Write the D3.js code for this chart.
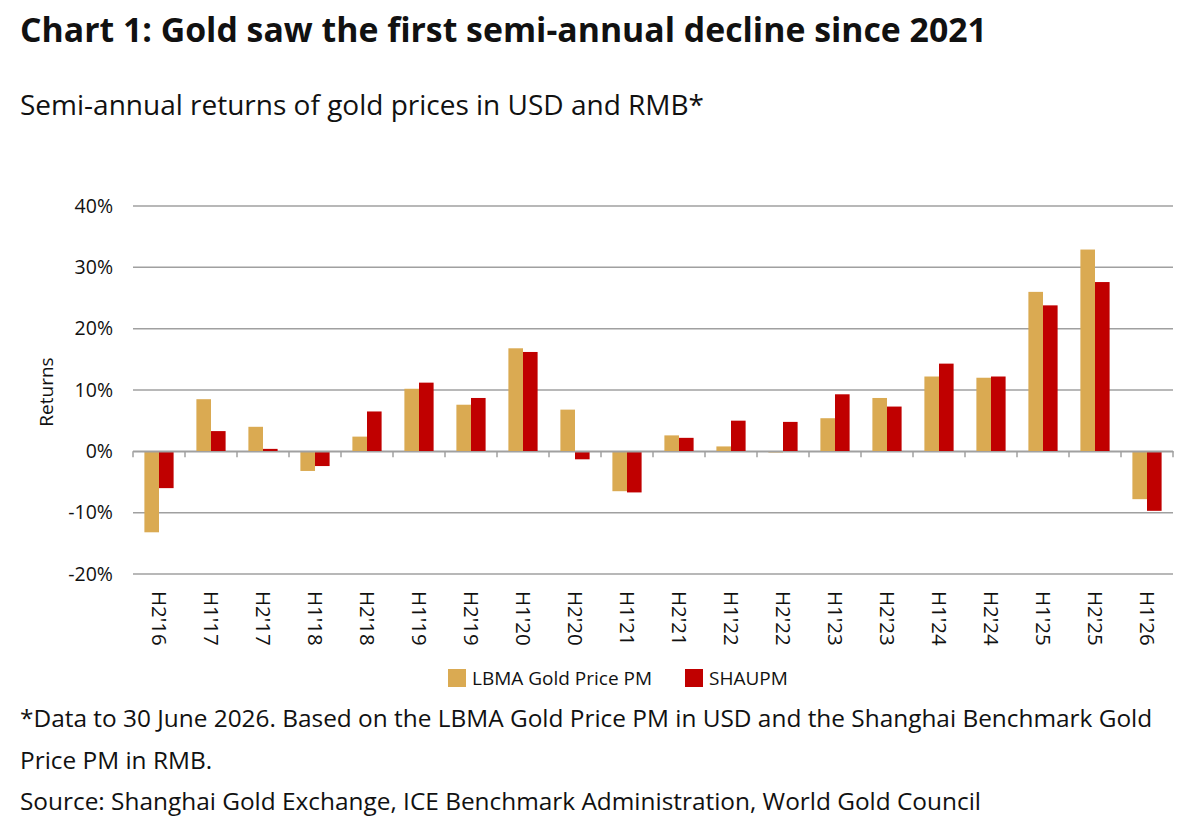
<!DOCTYPE html>
<html>
<head>
<meta charset="utf-8">
<script src="https://cdn.jsdelivr.net/npm/d3@7"></script>
<style>
  html, body { margin: 0; padding: 0; background: #fff; }
  svg { display: block; font-family: "Open Sans", "Noto Sans", sans-serif; }
</style>
</head>
<body>
<div id="chart"></div>
<script>
const periods = ["H2'16", "H1'17", "H2'17", "H1'18", "H2'18", "H1'19", "H2'19", "H1'20", "H2'20", "H1'21",
    "H2'21", "H1'22", "H2'22", "H1'23", "H2'23", "H1'24", "H2'24", "H1'25", "H2'25", "H1'26"];
const lbma = [-13.2, 8.5, 4.0, -3.2, 2.4, 10.2, 7.6, 16.8, 6.8, -6.5, 2.6, 0.8, -0.2, 5.4, 8.7, 12.2, 12.0, 26.0, 32.9, -7.8];
const shaupm = [-6.0, 3.3, 0.4, -2.4, 6.5, 11.2, 8.7, 16.2, -1.3, -6.7, 2.2, 5.0, 4.8, 9.3, 7.3, 14.3, 12.2, 23.8, 27.6, -9.7];
const seriesNames = ["LBMA Gold Price PM", "SHAUPM"];
const seriesColors = ["#DAAA52", "#C00000"];
const yTicks = [-20, -10, 0, 10, 20, 30, 40];
</script>
<script>
const width = 1200;
const height = 823;
const margin = {top: 206, right: 27, bottom: 249, left: 133};

const svg = d3.select("#chart")
    .append("svg")
    .attr("width", width)
    .attr("height", height);

// Title and subtitle.
svg.append("text")
    .attr("x", 20).attr("y", 42)
    .attr("font-size", "33.8px")
    .attr("font-weight", 700)
    .attr("fill", "#111")
    .text("Chart 1: Gold saw the first semi-annual decline since 2021");

svg.append("text")
    .attr("x", 20).attr("y", 115)
    .attr("font-size", "28px")
    .attr("fill", "#111")
    .text("Semi-annual returns of gold prices in USD and RMB*");

// Scales.
const x = d3.scaleBand().domain(periods).range([margin.left, width - margin.right]);
const x1 = d3.scaleBand().domain([0, 1]).range([0, x.bandwidth()]).paddingOuter(0.78);
const y = d3.scaleLinear().domain([-20, 40]).range([height - margin.bottom, margin.top]);

// Grid lines.
svg.append("g")
    .selectAll("line")
    .data(yTicks)
    .enter()
    .append("line")
    .attr("x1", margin.left).attr("x2", width - margin.right)
    .attr("y1", d => y(d)).attr("y2", d => y(d))
    .attr("stroke", "#a0a0a0")
    .attr("stroke-width", 1.5);

// Y axis labels.
svg.append("g")
    .selectAll("text")
    .data(yTicks)
    .enter()
    .append("text")
    .attr("x", 113)
    .attr("y", d => y(d))
    .attr("dy", "0.35em")
    .attr("text-anchor", "end")
    .attr("font-size", "19.5px")
    .attr("fill", "#111")
    .text(d => d + "%");

svg.append("text")
    .attr("transform", `translate(53,${y(10) + 2}) rotate(-90)`)
    .attr("text-anchor", "middle")
    .attr("font-size", "19px")
    .attr("fill", "#111")
    .text("Returns");

// Bars.
const rows = periods.map((p, i) => ({p, vals: [lbma[i], shaupm[i]]}));
const groups = svg.append("g")
    .selectAll("g")
    .data(rows)
    .enter()
    .append("g")
    .attr("transform", d => `translate(${x(d.p)},0)`);

groups.selectAll("rect")
    .data(d => d.vals.map((v, k) => ({v, k})))
    .enter()
    .append("rect")
    .attr("x", d => x1(d.k))
    .attr("y", d => y(Math.max(0, d.v)))
    .attr("width", x1.bandwidth())
    .attr("height", d => Math.abs(y(d.v) - y(0)))
    .attr("fill", d => seriesColors[d.k]);

// X axis at zero, with ticks between categories.
svg.append("g")
    .attr("transform", `translate(0,${y(0)})`)
    .call(d3.axisBottom(x).tickSize(0).tickFormat(""))
    .call(g => g.select(".domain").attr("stroke", "#a0a0a0").attr("stroke-width", 1.5))
    .call(g => g.selectAll(".tk")
        .data(d3.range(periods.length + 1))
        .enter()
        .append("line")
        .attr("class", "tk")
        .attr("x1", i => margin.left + i * x.step())
        .attr("x2", i => margin.left + i * x.step())
        .attr("y1", 0).attr("y2", 6)
        .attr("stroke", "#a0a0a0")
        .attr("stroke-width", 1.5));

// Category labels, rotated.
svg.append("g")
    .selectAll("text")
    .data(periods)
    .enter()
    .append("text")
    .attr("transform", d => `translate(${x(d) + x.bandwidth() / 2},${y(-20) + 17}) rotate(90)`)
    .attr("dy", "0.35em")
    .attr("font-size", "20.5px")
    .attr("fill", "#111")
    .text(d => d);

// Legend.
const legend = svg.append("g").attr("transform", "translate(448,678)");
const legendX = [0, 237];
seriesNames.forEach((name, k) => {
    legend.append("rect")
        .attr("x", legendX[k]).attr("y", -9)
        .attr("width", 18).attr("height", 18)
        .attr("fill", seriesColors[k]);
    legend.append("text")
        .attr("x", legendX[k] + 24).attr("y", 0)
        .attr("dy", "0.35em")
        .attr("font-size", "19px")
        .attr("fill", "#111")
        .text(name);
});

// Footnotes.
const notes = [
    "*Data to 30 June 2026. Based on the LBMA Gold Price PM in USD and the Shanghai Benchmark Gold",
    "Price PM in RMB.",
    "Source: Shanghai Gold Exchange, ICE Benchmark Administration, World Gold Council"
];
const noteY = [727, 769, 810];
notes.forEach((t, i) => {
    svg.append("text")
        .attr("x", 20).attr("y", noteY[i])
        .attr("font-size", "24.4px")
        .attr("fill", "#111")
        .text(t);
});
</script>
</body>
</html>
